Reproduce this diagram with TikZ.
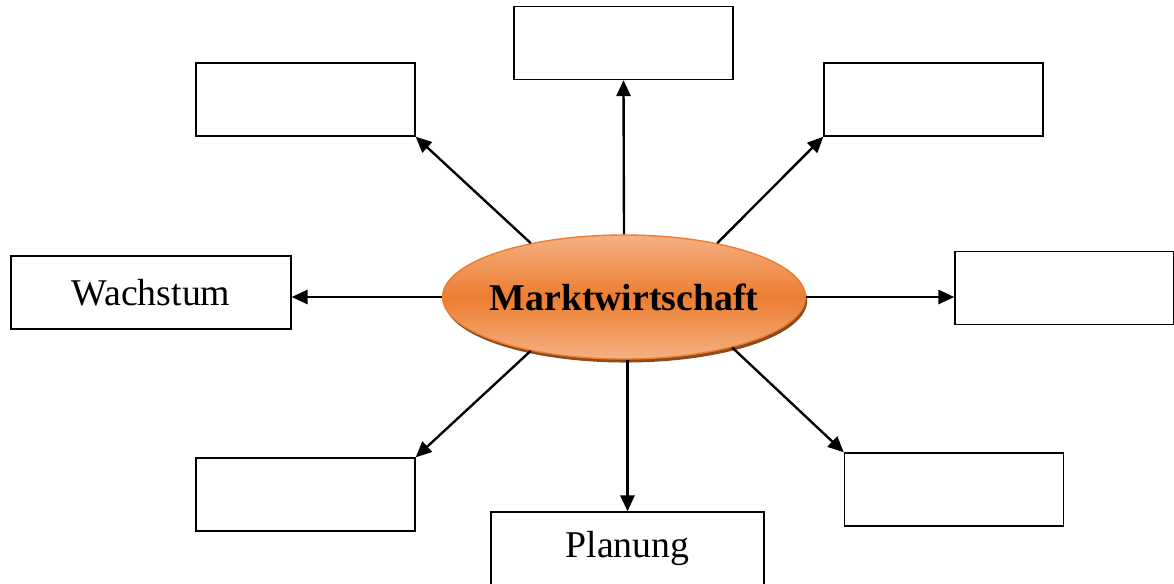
\documentclass[tikz,border=0pt]{standalone}
\usepackage{fontspec}
\setmainfont{Liberation Serif}
\usepackage{tikz}
\usetikzlibrary{arrows.meta,shapes.geometric,shadows}

\definecolor{mworange}{HTML}{ED7D31}
\definecolor{mwlight}{HTML}{F4B183}
\definecolor{mwshadow}{HTML}{8E4A1C}

\begin{document}
\begin{tikzpicture}[x=0.02cm,y=-0.02cm
	,>={Triangle[length=9pt,width=8pt]}
	,->
	,line width=1.35pt]
  \tikzstyle{blank}
  =[draw,line width=0.8pt,minimum width=219*0.02cm,minimum height=73*0.02cm,
    inner sep=0pt,font=\fontsize{21.5}{25}\selectfont]
  \tikzstyle{hub}
  =[ellipse,draw=mworange,line width=0.8pt,
    top color=mwlight,bottom color=mwlight,middle color=mworange,
    minimum width=362*0.02cm,minimum height=124*0.02cm,
    inner xsep=-0.12cm,inner ysep=0pt,
    drop shadow={shadow xshift=1pt,shadow yshift=-2pt,fill=mwshadow,opacity=1},
    font=\fontsize{21.5}{25}\selectfont\bfseries]

  \useasboundingbox (0,0) rectangle (1174,583);

  % centre
  \node[hub](mw) at (624,297) {Marktwirtschaft};

  % boxes, clockwise from the top
  \node[blank](top) at (623.5,43)   {};
  \node[blank](ur)  at (933.5,99.5) {};
  \node[blank](rt)  at (1064.5,288) {};
  \node[blank](lr)  at (954,489.5)  {};
  \node[blank,minimum width=273*0.02cm](pl) at (627.5,548.5) {Planung};
  \node[blank](ll)  at (305.5,494.5) {};
  \node[blank,minimum width=280*0.02cm](wa) at (151,292.5) {Wachstum};
  \node[blank](ul)  at (305.5,99.5) {};

  % arrows out of the centre
  \draw (mw.north) -- (top.south);
  \draw (mw.30)    -- (ur.south west);
  \draw (mw.east)  -- (mw.east -| rt.west);
  \draw (mw.-25)   -- (lr.north west);
  \draw (mw.south -| pl.north) -- (pl.north);
  \draw (mw.210)   -- (ll.north east);
  \draw (mw.west)  -- (mw.west -| wa.east);
  \draw (mw.150)   -- (ul.south east);
\end{tikzpicture}
\end{document}
